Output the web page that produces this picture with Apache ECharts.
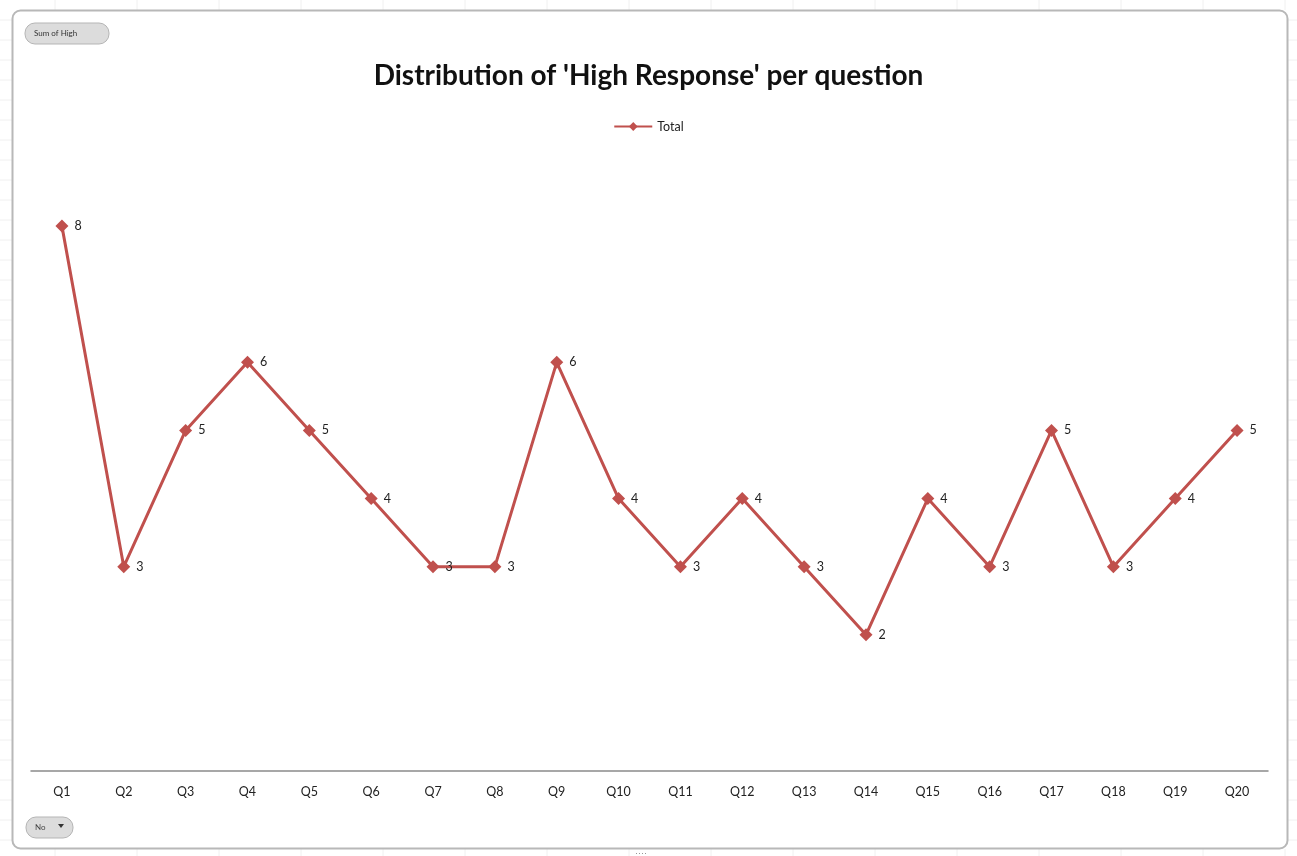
<!DOCTYPE html>
<html>
<head>
<meta charset="utf-8">
<script src="https://cdn.jsdelivr.net/npm/echarts@6/dist/echarts.min.js"></script>
<style>
  html, body { margin: 0; padding: 0; background: #ffffff; }
  #chart { width: 1297px; height: 856px; }
</style>
</head>
<body>
<div id="chart"></div>
<script>
// Questions and the count of 'High' responses for each
const questions = ['Q1','Q2','Q3','Q4','Q5','Q6','Q7','Q8','Q9','Q10',
                   'Q11','Q12','Q13','Q14','Q15','Q16','Q17','Q18','Q19','Q20'];
const highTotals = [8, 3, 5, 6, 5, 4, 3, 3, 6, 4, 3, 4, 3, 2, 4, 3, 5, 3, 4, 5];
const seriesName = 'Total';
const titleText = "Distribution of 'High Response' per question";
const valueFieldLabel = 'Sum of High';
const filterLabel = 'No';

const RED = '#C0504D';
const chart = echarts.init(document.getElementById('chart'), null, { renderer: 'canvas' });

// Faint spreadsheet grid lines visible around the chart frame
const sheetLines = [];
for (let y = 20; y < 856; y += 20) {
  sheetLines.push({ type: 'line', silent: true, z: 0,
    shape: { x1: 0, y1: y, x2: 12, y2: y }, style: { stroke: '#f0f0f0', lineWidth: 1 } });
  sheetLines.push({ type: 'line', silent: true, z: 0,
    shape: { x1: 1288, y1: y, x2: 1297, y2: y }, style: { stroke: '#f0f0f0', lineWidth: 1 } });
}
for (let x = 55; x < 1297; x += 82) {
  sheetLines.push({ type: 'line', silent: true, z: 0,
    shape: { x1: x, y1: 0, x2: x, y2: 10 }, style: { stroke: '#f0f0f0', lineWidth: 1 } });
  sheetLines.push({ type: 'line', silent: true, z: 0,
    shape: { x1: x, y1: 849, x2: x, y2: 856 }, style: { stroke: '#f0f0f0', lineWidth: 1 } });
}

const option = {
  backgroundColor: '#ffffff',
  animation: false,
  title: {
    text: titleText,
    left: 'center',
    top: 57,
    textStyle: { fontFamily: 'Lato', fontWeight: 'bold', fontSize: 28, color: '#111111' }
  },
  legend: {
    data: [seriesName],
    top: 115,
    left: 'center',
    itemWidth: 38,
    itemHeight: 11,
    itemGap: 4,
    textStyle: { fontFamily: 'Lato', fontSize: 12.5, color: '#222222' }
  },
  grid: { left: 31, right: 29, top: 158, bottom: 85, containLabel: false },
  xAxis: {
    type: 'category',
    data: questions,
    boundaryGap: true,
    axisLine: { show: true, lineStyle: { color: '#8a8a8a', width: 1.5 } },
    axisTick: { show: false },
    axisLabel: { fontFamily: 'Lato', fontSize: 12.5, color: '#222222', margin: 14 }
  },
  yAxis: {
    type: 'value',
    min: 0,
    max: 9,
    interval: 1,
    show: false,
    splitLine: { show: false }
  },
  series: [{
    name: seriesName,
    type: 'line',
    data: highTotals,
    symbol: 'diamond',
    symbolSize: 13,
    lineStyle: { color: RED, width: 3 },
    itemStyle: { color: RED },
    label: {
      show: true,
      position: 'right',
      distance: 6,
      fontFamily: 'Lato',
      fontSize: 12.5,
      color: '#222222'
    }
  }],
  graphic: sheetLines.concat([
    // Chart frame
    { type: 'rect', silent: true, z: 1,
      shape: { x: 12.5, y: 10.5, width: 1275, height: 838, r: 8 },
      style: { fill: 'none', stroke: '#b8b8b8', lineWidth: 2 } },
    // Value field button
    { type: 'rect', z: 5,
      shape: { x: 25, y: 23, width: 84, height: 21, r: 10 },
      style: { fill: '#dcdcdc', stroke: '#b5b5b5', lineWidth: 1 } },
    { type: 'text', z: 6, left: 34, top: 29,
      style: { text: valueFieldLabel, fontFamily: 'Lato', fontSize: 8, fill: '#333333' } },
    // Filter button
    { type: 'rect', z: 5,
      shape: { x: 26, y: 817, width: 47, height: 21, r: 10 },
      style: { fill: '#dcdcdc', stroke: '#b5b5b5', lineWidth: 1 } },
    { type: 'text', z: 6, left: 35, top: 823,
      style: { text: filterLabel, fontFamily: 'Lato', fontSize: 8, fill: '#444444' } },
    { type: 'polygon', z: 6,
      shape: { points: [[58, 824], [64, 824], [61, 828]] },
      style: { fill: '#333333' } },
    // Resize grip at the bottom edge
    { type: 'text', z: 6, left: 635, top: 849,
      style: { text: '····', fontSize: 9, fill: '#888888' } }
  ])
};

chart.setOption(option);
</script>
</body>
</html>
